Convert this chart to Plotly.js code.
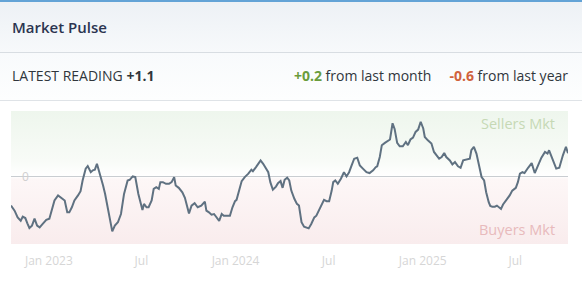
<!DOCTYPE html>
<html>
<head>
<meta charset="utf-8">
<script src="https://cdn.plot.ly/plotly-3.0.1.min.js"></script>
<style>
  html, body { margin: 0; padding: 0; background: #ffffff; }
  body { width: 582px; height: 283px; overflow: hidden; font-family: "Open Sans", "DejaVu Sans", sans-serif; }
  #hdr { box-sizing: border-box; height: 53px; border-top: 2px solid #63a3d6; border-bottom: 1px solid #d8dde2;
         background: linear-gradient(#edf1f5, #f7f9fb); padding-left: 12px; display: flex; align-items: center;
         font-size: 15px; font-weight: 600; color: #2b3450; }
  #row { box-sizing: border-box; height: 48px; border-bottom: 1px solid #dfe3e7; background: linear-gradient(#f8fafc, #fdfefe);
         display: flex; align-items: center; justify-content: space-between; padding: 0 14px 2px 12px;
         font-size: 14px; color: #30363c; }
  #row b { font-weight: 700; }
  .up { color: #6a9c3c; }
  .dn { color: #d0623c; }
  #chart { width: 582px; height: 182px; }
</style>
</head>
<body>
<div id="hdr">Market Pulse</div>
<div id="row">
  <span>LATEST READING <b id="latest"></b></span>
  <span><b class="up" id="mom"></b> from last month&nbsp;&nbsp;&nbsp;&nbsp;&nbsp;<b class="dn" id="yoy"></b> from last year</span>
</div>
<div id="chart"></div>
<script>
// ---- data ----
const latestReading = "+1.1";
const changeMonth = "+0.2";
const changeYear = "-0.6";

const dates = [
"2022-10-19","2022-10-26","2022-11-01","2022-11-07","2022-11-11","2022-11-16","2022-11-20","2022-11-24","2022-11-29","2022-12-04",
"2022-12-09","2022-12-14","2022-12-20","2022-12-27","2023-01-02","2023-01-06","2023-01-12","2023-01-19","2023-01-25","2023-02-01",
"2023-02-06","2023-02-10","2023-02-15","2023-02-20","2023-02-27","2023-03-04","2023-03-08","2023-03-14","2023-03-18","2023-03-24",
"2023-03-28","2023-04-01","2023-04-05","2023-04-10","2023-04-17","2023-04-21","2023-04-27","2023-05-05","2023-05-10","2023-05-16",
"2023-05-22","2023-05-28","2023-06-04","2023-06-08","2023-06-14","2023-06-19","2023-06-25","2023-06-30","2023-07-03","2023-07-06",
"2023-07-11","2023-07-15","2023-07-21","2023-07-25","2023-07-30","2023-08-04","2023-08-07","2023-08-12","2023-08-18","2023-08-24",
"2023-08-29","2023-09-03","2023-09-06","2023-09-12","2023-09-19","2023-09-24","2023-09-28","2023-10-02","2023-10-07","2023-10-13",
"2023-10-19","2023-10-26","2023-11-02","2023-11-05","2023-11-10","2023-11-15","2023-11-20","2023-11-25","2023-11-30","2023-12-05",
"2023-12-09","2023-12-16","2023-12-21","2023-12-26","2023-12-31","2024-01-03","2024-01-08","2024-01-13","2024-01-19","2024-01-26",
"2024-02-01","2024-02-04","2024-02-10","2024-02-14","2024-02-19","2024-02-24","2024-02-29","2024-03-05","2024-03-09","2024-03-14",
"2024-03-20","2024-03-24","2024-03-29","2024-04-02","2024-04-06","2024-04-11","2024-04-15","2024-04-19","2024-04-25","2024-04-30",
"2024-05-04","2024-05-09","2024-05-14","2024-05-19","2024-05-23","2024-05-28","2024-06-03","2024-06-07","2024-06-12","2024-06-17",
"2024-06-22","2024-06-27","2024-07-02","2024-07-07","2024-07-10","2024-07-14","2024-07-19","2024-07-25","2024-07-31","2024-08-05",
"2024-08-10","2024-08-15","2024-08-20","2024-08-26","2024-08-31","2024-09-06","2024-09-13","2024-09-19","2024-09-26","2024-10-01",
"2024-10-04","2024-10-09","2024-10-13","2024-10-19","2024-10-24","2024-10-29","2024-11-03","2024-11-07","2024-11-12","2024-11-17",
"2024-11-23","2024-11-29","2024-12-03","2024-12-08","2024-12-13","2024-12-18","2024-12-23","2024-12-28","2025-01-02","2025-01-05",
"2025-01-11","2025-01-18","2025-01-23","2025-01-28","2025-02-02","2025-02-07","2025-02-12","2025-02-16","2025-02-23","2025-02-28",
"2025-03-05","2025-03-11","2025-03-16","2025-03-21","2025-03-27","2025-04-03","2025-04-06","2025-04-11","2025-04-16","2025-04-21",
"2025-04-26","2025-05-01","2025-05-05","2025-05-10","2025-05-13","2025-05-17","2025-05-22","2025-05-26","2025-05-30","2025-06-03",
"2025-06-07","2025-06-14","2025-06-20","2025-06-25","2025-07-02","2025-07-06","2025-07-10","2025-07-15","2025-07-19","2025-07-26",
"2025-08-02","2025-08-08","2025-08-14","2025-08-21","2025-08-28","2025-09-02","2025-09-05","2025-09-10","2025-09-14","2025-09-19",
"2025-09-25","2025-09-29","2025-10-02","2025-10-08","2025-10-12"
];

const pulse = [
-1.38,-1.62,-1.94,-2.10,-1.90,-1.97,-2.22,-2.44,-2.33,-2.00,
-2.33,-2.41,-2.25,-2.06,-2.00,-1.62,-1.14,-0.90,-1.01,-1.14,
-1.70,-1.70,-1.46,-1.14,-0.90,-0.70,-0.19,0.37,0.49,0.20,
0.29,0.32,0.60,0.20,-0.43,-0.83,-1.62,-2.60,-2.33,-2.17,
-1.78,-0.83,-0.19,-0.16,0.00,-0.03,-0.83,-1.30,-1.59,-1.30,
-1.46,-1.46,-1.14,-0.59,-0.51,-0.59,-0.27,-0.27,-0.35,-0.35,
-0.27,-0.03,-0.43,-0.54,-0.75,-1.01,-1.46,-1.75,-1.38,-1.27,
-1.46,-1.38,-1.19,-1.62,-1.70,-1.81,-1.78,-1.94,-2.10,-1.78,
-1.86,-1.86,-1.86,-1.46,-1.17,-1.11,-0.67,-0.22,-0.03,0.13,
0.32,0.25,0.44,0.57,0.76,0.60,0.41,0.20,-0.27,-0.63,
-0.48,-0.32,-0.22,-0.54,-0.16,-0.06,-0.19,-0.67,-1.06,-1.30,
-1.38,-2.17,-2.38,-2.41,-2.46,-2.25,-1.94,-1.86,-1.62,-1.38,
-1.11,-1.17,-1.17,-0.67,-0.27,-0.19,-0.35,-0.11,0.20,0.00,
0.20,0.52,0.84,0.89,0.52,0.37,0.20,0.16,0.29,0.44,
0.48,0.92,1.48,1.59,1.68,1.75,2.52,2.25,1.59,1.43,
1.43,1.63,1.48,1.75,1.84,2.11,2.22,2.59,2.27,1.87,
1.71,1.56,1.16,1.00,0.84,0.92,1.11,0.92,0.76,0.57,
0.68,0.48,0.41,0.76,0.79,0.84,1.24,1.40,1.08,0.52,
-0.03,-0.19,-0.75,-1.22,-1.40,-1.43,-1.43,-1.38,-1.46,-1.54,
-1.33,-1.11,-0.90,-0.67,-0.54,-0.27,0.13,0.20,0.16,0.41,
0.63,0.16,0.48,0.89,1.16,1.08,1.24,0.92,0.68,0.37,
0.41,0.76,1.00,1.40,1.10
];

const tickDates = ["2023-01-01","2023-07-01","2024-01-01","2024-07-01","2025-01-01","2025-07-01"];
const tickLabels = ["Jan 2023","Jul","Jan 2024","Jul","Jan 2025","Jul"];
const zoneLabels = ["Sellers Mkt", "Buyers Mkt"];

// ---- header text ----
document.getElementById("latest").textContent = latestReading;
document.getElementById("mom").textContent = changeMonth;
document.getElementById("yoy").textContent = changeYear;

// ---- chart ----
const yMin = -3.2, yMax = 3.1;
const zeroFrac = yMax / (yMax - yMin); // fraction from top
const z = zeroFrac.toFixed(3);
const zA = (zeroFrac - 0.12).toFixed(3);
const zB = (zeroFrac + 0.02).toFixed(3);
const svg = "<svg xmlns='http://www.w3.org/2000/svg' width='10' height='100' viewBox='0 0 10 100' preserveAspectRatio='none'>" +
  "<defs><linearGradient id='g' x1='0' y1='0' x2='0' y2='1'>" +
  "<stop offset='0' stop-color='#eef6ed'/>" +
  "<stop offset='" + zA + "' stop-color='#f8fbf7'/>" +
  "<stop offset='" + z + "' stop-color='#ffffff'/>" +
  "<stop offset='" + zB + "' stop-color='#fdf7f7'/>" +
  "<stop offset='1' stop-color='#f9eced'/>" +
  "</linearGradient></defs><rect x='0' y='0' width='10' height='100' fill='url(#g)'/></svg>";
const bgUri = "data:image/svg+xml;charset=utf-8," + encodeURIComponent(svg);

const trace = {
  x: dates, y: pulse, type: "scatter", mode: "lines",
  line: { color: "#5f7181", width: 2 },
  hoverinfo: "skip"
};

const layout = {
  width: 582, height: 182,
  margin: { l: 11, r: 14, t: 10, b: 39 },
  paper_bgcolor: "rgba(0,0,0,0)",
  plot_bgcolor: "rgba(0,0,0,0)",
  font: { family: "Open Sans, DejaVu Sans, sans-serif", size: 12, color: "#d4d4d4" },
  showlegend: false,
  xaxis: {
    type: "date",
    range: [dates[0], dates[dates.length - 1]],
    autorange: false,
    showgrid: false, zeroline: false, showline: false,
    tickvals: tickDates, ticktext: tickLabels,
    ticks: "", ticklabelstandoff: 8,
    tickfont: { size: 12, color: "#d6d6d6" },
    fixedrange: true
  },
  yaxis: {
    range: [yMin, yMax],
    autorange: false,
    showgrid: false, showline: false,
    zeroline: true, zerolinecolor: "#c9cdd1", zerolinewidth: 1,
    tickvals: [0], ticktext: ["0"],
    ticks: "", ticklabelposition: "inside",
    ticklabelstandoff: 8,
    tickfont: { size: 12, color: "#d0d0d0" },
    fixedrange: true
  },
  images: [{
    source: bgUri, xref: "paper", yref: "paper",
    x: 0, y: 1, sizex: 1, sizey: 1,
    xanchor: "left", yanchor: "top", sizing: "stretch", layer: "below"
  }],
  annotations: [
    { xref: "paper", yref: "paper", x: 0.98, y: 0.995, xanchor: "right", yanchor: "top",
      text: zoneLabels[0], showarrow: false, font: { size: 14.5, color: "#c6d9b5" } },
    { xref: "paper", yref: "paper", x: 0.98, y: 0.02, xanchor: "right", yanchor: "bottom",
      text: zoneLabels[1], showarrow: false, font: { size: 14.5, color: "#e8babc" } }
  ]
};

Plotly.newPlot("chart", [trace], layout, { staticPlot: true, displayModeBar: false });
</script>
</body>
</html>
